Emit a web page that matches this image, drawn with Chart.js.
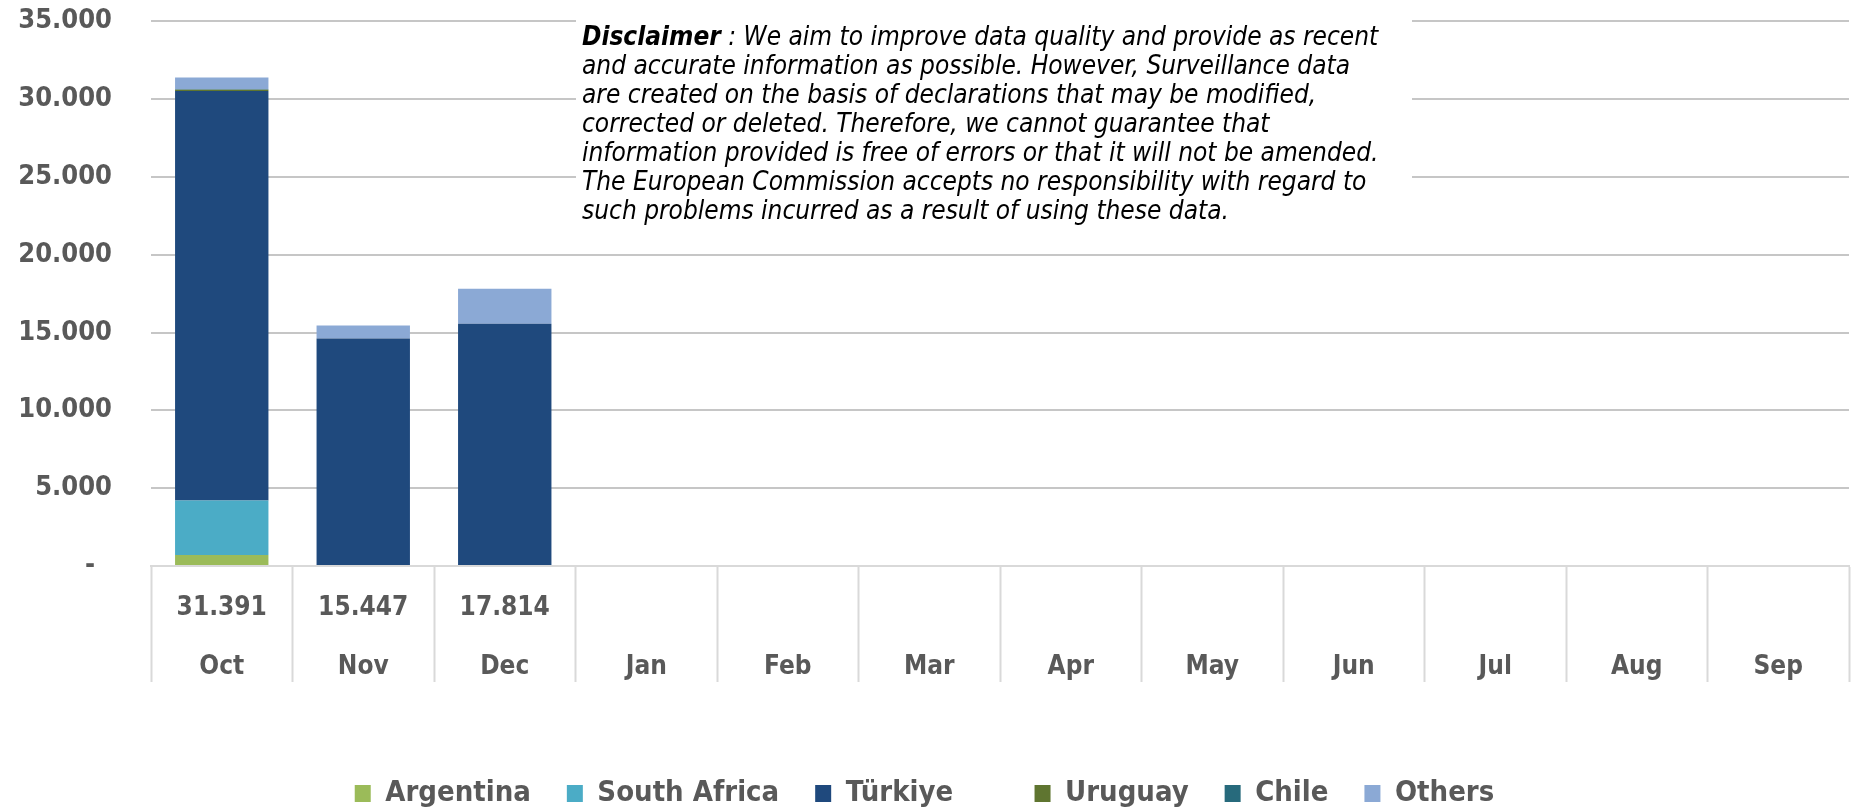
<!DOCTYPE html>
<html>
<head>
<meta charset="utf-8">
<script src="https://cdn.jsdelivr.net/npm/chart.js@4.4.0/dist/chart.umd.min.js"></script>
<style>
html, body { margin: 0; padding: 0; background: #fff; }
#wrap { width: 1852px; height: 812px; }
</style>
</head>
<body>
<div id="wrap"><canvas id="chart"></canvas></div>
<script>
// 月份
const months = ['Oct', 'Nov', 'Dec', 'Jan', 'Feb', 'Mar', 'Apr', 'May', 'Jun', 'Jul', 'Aug', 'Sep'];

// 各来源国数据
const argentina   = [700,   0,     0,     null, null, null, null, null, null, null, null, null];
const southAfrica = [3500,  0,     0,     null, null, null, null, null, null, null, null, null];
const turkiye     = [26320, 14615, 15556, null, null, null, null, null, null, null, null, null];
const uruguay     = [80,    0,     0,     null, null, null, null, null, null, null, null, null];
const chile       = [30,    0,     0,     null, null, null, null, null, null, null, null, null];
const others      = [761,   832,   2258,  null, null, null, null, null, null, null, null, null];

const seriesNames = ['Argentina', 'South Africa', 'Türkiye', 'Uruguay', 'Chile', 'Others'];
const seriesColors = ['#9BBB59', '#4BACC6', '#1F497D', '#5F7530', '#276A7C', '#8BA9D5'];
const seriesData = [argentina, southAfrica, turkiye, uruguay, chile, others];

// y轴刻度
const yMax = 35000;
const yStep = 5000;

// 免责声明
const disclaimerLines = [
    ' : We aim to improve data quality and provide as recent',
    'and accurate information as possible. However, Surveillance data',
    'are created on the basis of declarations that may be modified,',
    'corrected or deleted. Therefore, we cannot guarantee that',
    'information provided is free of errors or that it will not be amended.',
    'The European Commission accepts no responsibility with regard to',
    'such problems incurred as a result of using these data.'
];

function fmt(n) {
    return String(n).replace(/\B(?=(\d{3})+(?!\d))/g, '.');
}

// 每月合计（数据表第一行）
const totals = months.map((m, i) => {
    let has = false, sum = 0;
    seriesData.forEach(s => { if (s[i] !== null) { has = true; sum += s[i]; } });
    return has ? fmt(sum) : '';
});

const grey = '#595959';
const condFont = '"DejaVu Sans Condensed", "DejaVu Sans"';

const disclaimerBox = {
    id: 'disclaimerBox',
    beforeDatasetsDraw(chart) {
        const ctx = chart.ctx;
        ctx.save();
        ctx.fillStyle = '#fff';
        ctx.fillRect(576, 6, 836, 240);
        ctx.fillStyle = '#000';
        ctx.textBaseline = 'middle';
        let y = 38;
        disclaimerLines.forEach((line, i) => {
            let x = 582;
            if (i === 0) {
                ctx.font = 'italic bold 26px ' + condFont;
                ctx.fillText('Disclaimer', x, y);
                x += ctx.measureText('Disclaimer').width;
            }
            ctx.font = 'italic 26px ' + condFont;
            ctx.fillText(line, x, y);
            y += 29;
        });
        ctx.restore();
    }
};

const ctx = document.getElementById('chart').getContext('2d');
const chart = new Chart(ctx, {
    type: 'bar',
    data: {
        labels: months.map((m, i) => [totals[i], m]),
        datasets: seriesData.map((d, i) => ({
            label: seriesNames[i],
            data: d,
            backgroundColor: seriesColors[i],
            borderWidth: 0,
            categoryPercentage: 1,
            barPercentage: 0.66
        }))
    },
    options: {
        responsive: true,
        maintainAspectRatio: false,
        animation: false,
        layout: { padding: { top: 0, right: 3, bottom: -6, left: 0 } },
        plugins: {
            tooltip: { enabled: false },
            legend: {
                position: 'bottom',
                labels: {
                    color: grey,
                    font: { family: condFont, size: 29, weight: 'bold' },
                    boxWidth: 16,
                    boxHeight: 17,
                    padding: 36,
                    generateLabels(chart) {
                        const items = Chart.defaults.plugins.legend.labels.generateLabels(chart);
                        items.forEach(it => { if (it.text === 'Türkiye') it.text += '\u00a0\u00a0\u00a0\u00a0\u00a0'; });
                        return items;
                    }
                }
            }
        },
        scales: {
            x: {
                stacked: true,
                offset: true,
                grid: {
                    offset: true,
                    drawOnChartArea: false,
                    drawTicks: true,
                    tickLength: 116,
                    tickColor: '#D9D9D9',
                    tickWidth: 2
                },
                border: { color: '#D9D9D9', width: 2 },
                ticks: {
                    color: grey,
                    font: { family: condFont, size: 26, weight: 'bold', lineHeight: 59 / 26 },
                    padding: -103.5,
                    autoSkip: false,
                    maxRotation: 0
                },
                afterFit(scale) { scale.height = 177; }
            },
            y: {
                stacked: true,
                min: 0,
                max: yMax,
                grid: {
                    color: '#C6C6C6',
                    lineWidth: 2,
                    drawTicks: true,
                    tickLength: 34,
                    tickColor: 'rgba(0,0,0,0)'
                },
                border: { display: false },
                ticks: {
                    stepSize: yStep,
                    color: grey,
                    padding: 5,
                    font: { family: condFont, size: 27, weight: 'bold' },
                    callback: v => v === 0 ? '-\u00a0\u00a0' : fmt(v)
                },
                afterFit(scale) { scale.width = 151; }
            }
        }
    },
    plugins: [disclaimerBox]
});
</script>
</body>
</html>
